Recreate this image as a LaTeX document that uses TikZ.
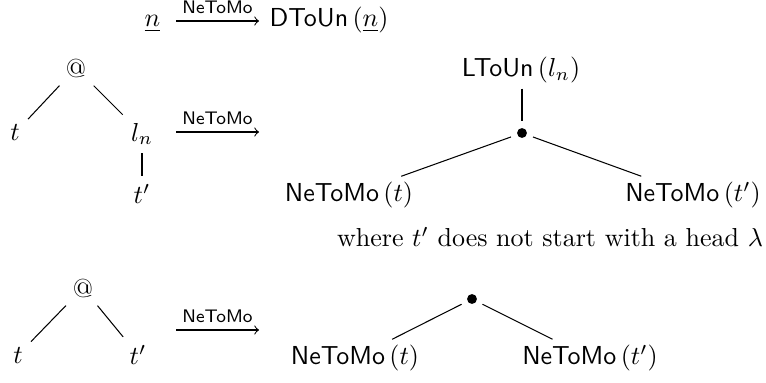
\documentclass[tikz,border=0pt]{standalone}
\usepackage{amsmath}
\begin{document}
\begin{tikzpicture}[x=0.3846pt,y=-0.3846pt,
  lbl/.style={inner sep=0pt, anchor=base},
  leaf/.style={inner sep=3pt},
  kid/.style={inner sep=2pt},
  dotnode/.style={circle, fill, inner sep=0pt, minimum size=3.8pt, outer sep=2.6pt},
  edge/.style={line width=0.4pt},
  maparrow/.style={line width=0.4pt, ->},
  maplabel/.style={midway, above, inner sep=2.8pt, font=\scriptsize\sffamily}]
\useasboundingbox (0,0) rectangle (766,383);

% row 1
\node[lbl] (n1) at (152.5,27) {$\underline{n}$};
\coordinate (a1s) at (176,21);
\coordinate (a1e) at (259,21);
\draw[maparrow] (a1s) -- (a1e) node[maplabel] (m1) {NeToMo};
\node[lbl] (d1) at (329,27) {$\mathsf{DToUn}\,(\underline{n})$};

% row 2, left tree
\node[leaf] (at2) at (76,68) {@};
\node[leaf] (t2) at (15,133) {$t$};
\node[leaf] (l2) at (142,134) {$l_n$};
\node[leaf] (tp2) at (142,194) {$t'$};
\draw[edge] (at2) -- (t2);
\draw[edge] (at2) -- (l2);
\draw[edge] (l2) -- (tp2);

\coordinate (a2s) at (176,132);
\coordinate (a2e) at (259,132);
\draw[maparrow] (a2s) -- (a2e) node[maplabel] (m2) {NeToMo};

% row 2, right tree
\node[kid] (lt2) at (521,70) {$\mathsf{LToUn}\,(l_n)$};
\node[dotnode] (dot2) at (522,133) {};
\node[kid] (nt2) at (349,195) {$\mathsf{NeToMo}\,(t)$};
\node[kid] (ntp2) at (693,195) {$\mathsf{NeToMo}\,(t')$};
\draw[edge] (lt2.south -| dot2) -- (dot2);
\draw[edge] (dot2) -- (nt2);
\draw[edge] (dot2) -- (ntp2);

\node[inner sep=0pt] (where) at (550,237) {where $t'$ does not start with a head $\lambda$};

% row 3, left tree
\node[leaf] (at3) at (83,288) {@};
\node[leaf] (t3) at (18,355) {$t$};
\node[leaf] (tp3) at (138,355) {$t'$};
\draw[edge] (at3) -- (t3);
\draw[edge] (at3) -- (tp3);

\coordinate (a3s) at (176,330);
\coordinate (a3e) at (259,330);
\draw[maparrow] (a3s) -- (a3e) node[maplabel] (m3) {NeToMo};

% row 3, right tree
\node[dotnode] (dot3) at (472,299) {};
\node[kid] (nt3) at (355,358) {$\mathsf{NeToMo}\,(t)$};
\node[kid] (ntp3) at (590,358) {$\mathsf{NeToMo}\,(t')$};
\draw[edge] (dot3) -- (nt3);
\draw[edge] (dot3) -- (ntp3);
\end{tikzpicture}
\end{document}
